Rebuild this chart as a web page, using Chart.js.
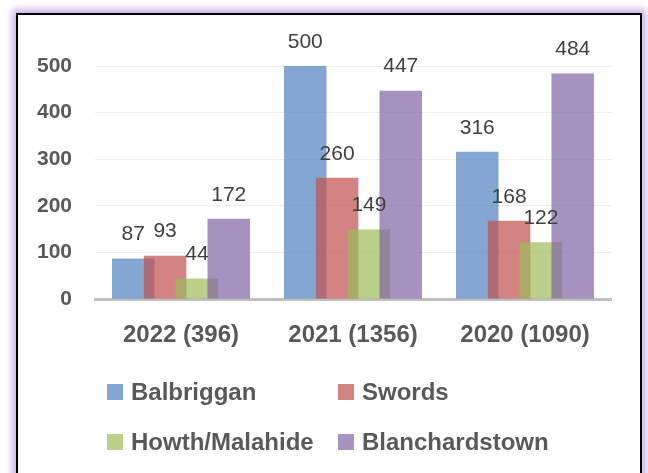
<!DOCTYPE html>
<html>
<head>
<meta charset="utf-8">
<script src="https://cdn.jsdelivr.net/npm/chart.js@4.4.0/dist/chart.umd.min.js"></script>
<style>
  body { margin: 0; background: #ffffff; width: 648px; height: 473px; overflow: hidden; position: relative; }
  #frame {
    position: absolute; left: 16px; top: 13px; width: 622px; height: 500px;
    border: 2px solid #000000; background: #ffffff;
    box-shadow: 0 0 7px 4px rgba(196, 172, 230, 0.9);
  }
  #chart { position: absolute; left: 0; top: 0; }
  #legend {
    position: absolute; left: 107px; top: 380px;
    display: grid; grid-template-columns: 231px 230px; row-gap: 26px;
    font-family: "Liberation Sans", Arial, sans-serif; font-weight: bold; font-size: 24px; color: #595959;
  }
  .item { display: flex; align-items: center; height: 24px; white-space: nowrap; }
  .box { width: 16px; height: 16px; margin-right: 8px; }
</style>
</head>
<body>
<div id="frame"></div>
<canvas id="chart" width="648" height="473"></canvas>
<div id="legend"></div>
<script>
// data
const years = ['2022 (396)', '2021 (1356)', '2020 (1090)'];
const balbriggan = [87, 500, 316];
const swords = [93, 260, 168];
const howthMalahide = [44, 149, 122];
const blanchardstown = [172, 447, 484];
const yTicks = [0, 100, 200, 300, 400, 500];

const fontFamily = '"Liberation Sans", Arial, sans-serif';
const tickGray = '#595959';

// later series sit on top of the earlier ones (chart.js default is the other way)
const drawOrderPlugin = {
  id: 'drawOrder',
  beforeDatasetsDraw(chart) {
    chart.getSortedVisibleDatasetMetas().forEach(meta => chart._drawDataset(meta));
    return false;
  }
};

// value labels above each bar
const valueLabelPlugin = {
  id: 'valueLabels',
  afterDraw(chart) {
    const ctx = chart.ctx;
    ctx.save();
    ctx.font = '21px ' + fontFamily;
    ctx.fillStyle = '#404040';
    ctx.textAlign = 'center';
    ctx.textBaseline = 'middle';
    chart.data.datasets.forEach((dataset, i) => {
      chart.getDatasetMeta(i).data.forEach((bar, j) => {
        ctx.fillText(dataset.data[j], bar.x, bar.y - 24);
      });
    });
    ctx.restore();
  }
};

const chart = new Chart(document.querySelector('#chart'), {
  type: 'bar',
  data: {
    labels: years,
    datasets: [
      { label: 'Balbriggan', data: balbriggan, backgroundColor: 'rgba(79, 129, 189, 0.7)' },
      { label: 'Swords', data: swords, backgroundColor: 'rgba(192, 80, 77, 0.7)' },
      { label: 'Howth/Malahide', data: howthMalahide, backgroundColor: 'rgba(155, 187, 89, 0.7)' },
      { label: 'Blanchardstown', data: blanchardstown, backgroundColor: 'rgba(128, 100, 162, 0.7)' }
    ]
  },
  options: {
    responsive: false,
    animation: false,
    categoryPercentage: 0.74,
    barPercentage: 1.336,
    layout: { padding: { top: 66, right: 37, bottom: 114, left: 0 } },
    plugins: {
      legend: { display: false },
      tooltip: { enabled: false }
    },
    scales: {
      x: {
        grid: { display: false, drawTicks: false },
        border: { color: '#bfbfbf', width: 3 },
        ticks: { color: tickGray, padding: 22, font: { family: fontFamily, size: 24, weight: 'bold' } },
        afterFit: scale => { scale.height = 60; }
      },
      y: {
        min: 0,
        max: yTicks[yTicks.length - 1],
        afterBuildTicks: scale => { scale.ticks = yTicks.map(v => ({ value: v })); },
        grid: { color: '#eeeeee', drawTicks: false },
        border: { display: false },
        ticks: { color: tickGray, padding: 23, font: { family: fontFamily, size: 21, weight: 'bold' } },
        afterFit: scale => { scale.width = 95; }
      }
    }
  },
  plugins: [drawOrderPlugin, valueLabelPlugin]
});

// html legend, two columns
const legend = document.querySelector('#legend');
chart.data.datasets.forEach(dataset => {
  const item = document.createElement('div');
  item.className = 'item';
  const box = document.createElement('span');
  box.className = 'box';
  box.style.background = dataset.backgroundColor;
  const text = document.createElement('span');
  text.innerText = dataset.label;
  item.appendChild(box);
  item.appendChild(text);
  legend.appendChild(item);
});
</script>
</body>
</html>
